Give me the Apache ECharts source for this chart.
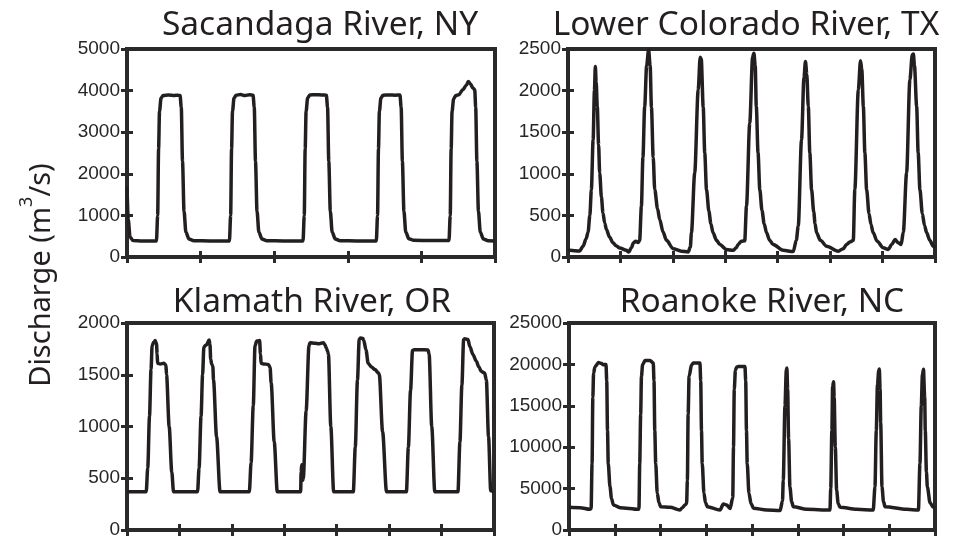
<!DOCTYPE html>
<html><head><meta charset="utf-8">
<script src="https://cdn.jsdelivr.net/npm/echarts@6/dist/echarts.min.js"></script>
<style>html,body{margin:0;padding:0;background:#fff}#c{width:954px;height:541px}</style>
</head><body><div id="c"></div>
<script>
// Panel titles
const panelTitles = ['Sacandaga River, NY', 'Lower Colorado River, TX', 'Klamath River, OR', 'Roanoke River, NC'];
// x extent in hours (one tick per day) and y axis ranges
const xMaxHours = [120, 168, 168, 192];
const yMaxValues = [5000, 2500, 2000, 25000];
const yIntervals = [1000, 500, 500, 5000];

// [hour, discharge m3/s]
const sacandaga = [
 [0,1700],[0.4,900],[1.0,480],[2.0,395],[5.0,385],[9.6,385],[10.0,1000],[10.3,2600],[10.6,3500],[11.1,3820],[11.8,3885],[13.5,3895],[15.5,3885],[16.5,3890],[17.3,3880],[17.7,3600],[18.1,2300],[18.6,1100],[19.2,600],[20.2,430],[21.8,392],
 [27.0,385],[33.4,385],[33.8,1000],[34.1,2600],[34.4,3500],[34.9,3820],[35.6,3890],[37.0,3905],[38.5,3880],[40.0,3900],[41.1,3890],[41.5,3600],[41.9,2300],[42.4,1100],[43.0,600],[44.0,430],[45.6,392],
 [51.0,385],[57.4,385],[57.8,1000],[58.1,2600],[58.4,3500],[58.9,3820],[59.6,3895],[61.5,3900],[63.5,3895],[65.0,3890],[65.4,3600],[65.8,2300],[66.3,1100],[66.9,600],[67.9,430],[69.5,392],
 [75.0,385],[81.3,385],[81.7,1000],[82.0,2600],[82.3,3500],[82.8,3820],[83.5,3890],[85.5,3895],[87.5,3890],[89.0,3895],[89.4,3600],[89.8,2300],[90.3,1100],[90.9,600],[91.9,440],[93.5,400],
 [99.0,398],[105.0,398],[105.4,1000],[105.7,2600],[106.0,3500],[106.5,3800],[107.2,3880],[108.2,3900],[109.5,4020],[110.6,4120],[111.3,4220],[112.0,4160],[112.8,4060],[113.4,4020],[113.7,3600],[114.1,2300],[114.6,1100],[115.2,600],[116.2,430],[117.8,390],[120,385]
];
const lowerColorado = [
 [0,72],[0.8,80],[5.3,72],[6.9,130],[8.3,220],[9.2,300],[10.0,500],[10.7,810],[11.5,1410],[12.1,2000],[12.5,2290],[12.9,2100],[13.4,1810],[14.0,1350],[14.5,1010],[15.3,720],[16.0,530],[16.8,410],[17.6,330],[19.0,240],[20.6,170],[22.0,135],[23.7,108],[26.7,80],[27.8,60],
 [29.0,110],[30.0,170],[31.0,190],[32.1,175],[32.8,200],[33.6,610],[34.3,1200],[35.1,1810],[36.0,2300],[36.9,2490],[37.6,2300],[38.2,1800],[39.0,1200],[39.7,810],[41.0,580],[42.0,450],[43.5,300],[45.1,200],[48.1,100],[51.9,70],[55.0,60],
 [56.0,120],[56.5,290],[58.0,1010],[59.6,2010],[60.5,2400],[61.0,2380],[61.9,1800],[62.6,1250],[63.4,810],[64.5,550],[65.4,400],[66.4,290],[68.0,200],[69.5,150],[72.5,90],[75.6,80],
 [77.0,110],[77.9,150],[79.4,190],[80.9,195],[81.7,610],[83.2,1610],[84.5,2400],[85.1,2450],[85.7,2300],[86.2,1810],[87.0,1250],[87.8,810],[88.8,560],[89.8,400],[90.9,290],[92.3,200],[93.9,150],[98.5,80],[103.1,65],
 [104.5,200],[105.4,370],[106.9,1410],[108.0,2150],[108.7,2350],[109.3,2200],[110.0,1810],[110.7,1250],[111.5,810],[112.5,540],[113.1,400],[113.8,290],[115.5,200],[118.4,130],[123.7,70],
 [126.0,100],[127.5,150],[129.0,180],[130.6,200],[131.3,810],[132.9,2010],[133.9,2360],[134.5,2250],[135.2,1810],[135.9,1250],[136.7,810],[137.8,520],[138.7,390],[139.7,290],[141.5,190],[144.3,110],[146.6,90],
 [148.2,150],[149.7,210],[151.2,170],[152.5,150],[153.5,300],[155.0,1010],[156.5,2130],[157.6,2430],[158.1,2440],[158.6,2300],[159.6,1810],[160.3,1250],[161.1,810],[162.2,520],[163.2,380],[164.2,290],[165.6,200],[167.2,130],[168,110]
];
const klamath = [
 [0,370],[8.8,370],[9.5,600],[10.3,1100],[11.0,1550],[11.5,1780],[12.2,1815],[12.9,1830],[13.5,1800],[13.8,1700],[14.0,1610],[15.2,1605],[16.8,1610],[17.8,1597],[18.1,1500],[19.3,1000],[20.5,560],[21.3,370],
 [32.3,370],[33.0,600],[33.9,1100],[34.6,1500],[35.2,1770],[36.4,1790],[37.6,1835],[38.0,1790],[38.3,1650],[38.8,1600],[39.3,1580],[39.6,1450],[41.0,900],[42.6,370],
 [56.0,370],[56.8,650],[57.8,1200],[58.6,1780],[59.4,1825],[60.7,1830],[61.1,1700],[61.4,1610],[62.4,1605],[64.7,1600],[65.5,1570],[66.0,1420],[67.4,850],[68.8,370],
 [79.5,370],[79.7,560],[80.0,630],[80.4,480],[80.7,500],[82.0,1150],[83.3,1780],[83.8,1810],[86.0,1805],[88.0,1800],[89.9,1810],[90.6,1790],[91.2,1760],[91.8,1730],[92.2,1700],[93.3,1000],[94.6,370],
 [103.6,370],[104.5,800],[105.5,1450],[106.3,1840],[106.8,1855],[108.0,1850],[108.4,1830],[109.4,1740],[110.4,1610],[111.9,1575],[113.5,1550],[115.0,1520],[115.5,1500],[117.0,950],[118.8,370],
 [127.9,370],[128.8,800],[129.8,1350],[130.7,1735],[131.5,1742],[134.5,1742],[137.8,1740],[138.3,1700],[139.5,1000],[140.9,370],
 [151.5,370],[152.4,850],[153.3,1400],[154.1,1840],[154.6,1848],[156.1,1840],[156.9,1774],[158.4,1694],[159.9,1630],[161.1,1574],[162.2,1532],[163.7,1516],[164.5,1450],[165.5,900],[166.5,380],[168,370]
];
const roanoke = [
 [0,2740],[5.8,2700],[11.0,2500],[11.6,2600],[12.1,8000],[12.5,16000],[12.9,18950],[13.6,19700],[14.2,19840],[15.4,20240],[17.1,20100],[18.0,19960],[19.4,20000],[19.8,18000],[20.2,12000],[20.6,8000],[21.5,5240],[22.3,3800],[23.3,3020],[26.8,2700],
 [36.4,2500],[36.7,2600],[37.1,8000],[37.6,14000],[38.0,18500],[38.6,19960],[39.9,20480],[42.5,20480],[44.2,20160],[44.6,18000],[45.0,12000],[45.5,8000],[46.3,4430],[47.2,3300],[48.1,2820],[53.0,2750],
 [58.2,2420],[59.5,2700],[60.9,3020],[61.7,3200],[62.1,6000],[62.5,14000],[63.0,18550],[64.3,19960],[65.2,20160],[68.7,20160],[69.1,18000],[69.5,12000],[69.9,8000],[70.8,4430],[71.6,3300],[72.6,2820],
 [79.2,2420],[81.0,3140],[82.7,3020],[84.5,2600],[85.9,3900],[86.3,10000],[86.7,17000],[87.3,19300],[88.0,19680],[88.8,19760],[92.3,19760],[92.7,18000],[93.1,12000],[93.5,8000],[94.4,4430],[95.5,3200],[96.8,2620],
 [103.7,2420],[110.7,2340],[112.0,3500],[112.4,6000],[113.3,15000],[114.0,19300],[114.3,19560],[114.7,17000],[115.2,11000],[115.9,5200],[116.8,3400],[117.7,2820],
 [124.7,2500],[136.9,2420],[137.3,5000],[137.9,12000],[138.3,17340],[138.8,17900],[139.1,16000],[139.7,10000],[140.4,4800],[141.2,3200],[142.2,2740],
 [150.9,2500],[159.6,2420],[160.5,5200],[161.2,12000],[161.8,17500],[162.5,19300],[162.8,19430],[163.2,17000],[163.5,13000],[164.2,5200],[165.0,3400],[165.8,2820],
 [177.1,2500],[183.3,2420],[184.1,8000],[184.8,15000],[185.4,18750],[186.0,19400],[186.2,19430],[186.6,16000],[186.9,12000],[187.5,7000],[188.0,5200],[189.4,3300],[191.1,2740],[192,2700]
];
const riverData = [sacandaga, lowerColorado, klamath, roanoke];

const INK = '#231f20';
const FRAME = '#2a2a2a';
const LABEL = '#262626';
const gridBoxes = [
  {left:127, top:49, width:368, height:208},
  {left:568, top:49, width:367, height:208},
  {left:127, top:323, width:367, height:207},
  {left:569, top:323, width:366, height:207}
];
const titlePos = [[320,25],[746,25],[312,302],[762,302]];

const grid = [], xAxis = [], yAxis = [], series = [];
gridBoxes.forEach((g, i) => {
  grid.push(Object.assign({show:true, borderColor:FRAME, borderWidth:4, backgroundColor:'transparent', containLabel:false}, g));
  ['bottom','top'].forEach(pos => xAxis.push({
    type:'value', gridIndex:i, position:pos, min:0, max:xMaxHours[i], interval:24,
    axisLine:{show:false}, splitLine:{show:false}, axisLabel:{show:false},
    axisTick:{show:true, inside:true, length:6, lineStyle:{color:FRAME, width:3}}
  }));
  ['left','right'].forEach(pos => yAxis.push({
    type:'value', gridIndex:i, position:pos, min:0, max:yMaxValues[i], interval:yIntervals[i],
    axisLine:{show:false}, splitLine:{show:false},
    axisLabel:{show:pos==='left', color:LABEL, fontSize:19, fontFamily:'Liberation Sans, Arial, sans-serif', margin:7,
      formatter: v => String(v)},
    axisTick:{show:true, inside:true, length:6, lineStyle:{color:FRAME, width:3}}
  }));
  series.push({
    type:'line', xAxisIndex:i*2, yAxisIndex:i*2, data:riverData[i],
    showSymbol:false, smooth:0.3, smoothMonotone:'x', clip:true,
    lineStyle:{color:INK, width:3.5}, itemStyle:{color:INK}
  });
});

const graphic = panelTitles.map((t, i) => ({
  type:'text', x:titlePos[i][0], y:titlePos[i][1],
  style:{text:t, align:'center', verticalAlign:'middle', fill:'#231f20', fontSize:33.5, fontFamily:'Noto Sans, Open Sans, sans-serif'}
}));
graphic.push({
  type:'text', x:37, y:275, rotation:Math.PI/2,
  style:{
    text:'{t|Discharge (m}{s|3}{t|/s)}', align:'center', verticalAlign:'middle', fill:'#231f20',
    rich:{
      t:{fontSize:29, lineHeight:38, verticalAlign:'bottom', fontFamily:'Noto Sans, Open Sans, sans-serif', fill:'#231f20'},
      s:{fontSize:18, lineHeight:18, verticalAlign:'top', fontFamily:'Noto Sans, Open Sans, sans-serif', fill:'#231f20'}
    }
  }
});

const chart = echarts.init(document.getElementById('c'), null, {renderer:'canvas'});
chart.setOption({animation:false, backgroundColor:'#fff', grid, xAxis, yAxis, series, graphic});
</script></body></html>
